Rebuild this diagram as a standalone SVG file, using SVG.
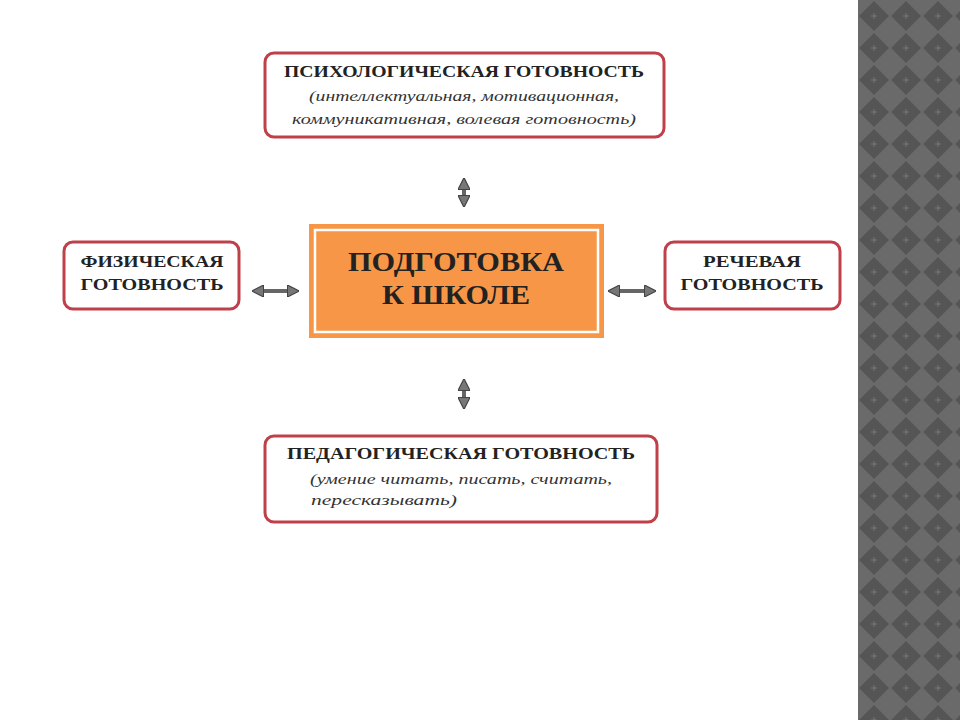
<svg xmlns="http://www.w3.org/2000/svg" width="960" height="720" viewBox="0 0 960 720">
<defs>
<pattern id="chk" x="858" y="0" width="32" height="32" patternUnits="userSpaceOnUse">
<rect width="32" height="32" fill="#6a6a6a"/>
<polygon points="16,1 31,16 16,31 1,16" fill="#555"/>
<path d="M13 16h6M16 13v6" stroke="#777" stroke-width="1"/>
</pattern>
<marker id="ah" viewBox="0 0 10 10" refX="8" refY="5" markerWidth="3" markerHeight="3" orient="auto-start-reverse">
<path d="M0,0 L10,5 L0,10 Z" fill="#777" stroke="#444" stroke-width="1"/>
</marker>
</defs>
<style>
.box{fill:#fff;stroke:#c0404a;stroke-width:3}
.t{font-family:"Liberation Serif",serif;font-weight:bold;fill:#222;text-anchor:middle}
.s{font-family:"Liberation Serif",serif;font-style:italic;fill:#333;text-anchor:middle;font-size:15px}
.c{stroke:#666;stroke-width:4;fill:none;marker-start:url(#ah);marker-end:url(#ah)}
</style>
<rect width="960" height="720" fill="#fff"/>
<rect x="858" y="0" width="102" height="720" fill="url(#chk)"/>
<g id="psych">
<rect class="box" x="265" y="53" width="399" height="84" rx="9"/>
<text class="t" x="464" y="77" font-size="16" textLength="360" lengthAdjust="spacingAndGlyphs">ПСИХОЛОГИЧЕСКАЯ ГОТОВНОСТЬ</text>
<text class="s" x="464" y="101" textLength="310" lengthAdjust="spacingAndGlyphs">(интеллектуальная, мотивационная,</text>
<text class="s" x="464" y="124" textLength="344" lengthAdjust="spacingAndGlyphs">коммуникативная, волевая готовность)</text>
</g>
<g id="center">
<rect x="309" y="224" width="295" height="114" fill="#f79646"/>
<rect x="315" y="230" width="283" height="102" fill="none" stroke="#fff" stroke-width="2.5"/>
<text class="t" x="456" y="271" font-size="28" font-weight="normal" fill="#1a1a1a" textLength="216" lengthAdjust="spacingAndGlyphs">ПОДГОТОВКА</text>
<text class="t" x="456" y="304" font-size="28" font-weight="normal" fill="#1a1a1a" textLength="148" lengthAdjust="spacingAndGlyphs">К ШКОЛЕ</text>
</g>
<g id="phys">
<rect class="box" x="64" y="242" width="175" height="67" rx="9"/>
<text class="t" x="152" y="267" font-size="16" textLength="143" lengthAdjust="spacingAndGlyphs">ФИЗИЧЕСКАЯ</text>
<text class="t" x="152" y="290" font-size="16" textLength="143" lengthAdjust="spacingAndGlyphs">ГОТОВНОСТЬ</text>
</g>
<g id="speech">
<rect class="box" x="665" y="242" width="175" height="67" rx="9"/>
<text class="t" x="752" y="267" font-size="16" textLength="98" lengthAdjust="spacingAndGlyphs">РЕЧЕВАЯ</text>
<text class="t" x="752" y="290" font-size="16" textLength="143" lengthAdjust="spacingAndGlyphs">ГОТОВНОСТЬ</text>
</g>
<g id="ped">
<rect class="box" x="265" y="436" width="392" height="86" rx="9"/>
<text class="t" x="461" y="459" font-size="16" textLength="348" lengthAdjust="spacingAndGlyphs">ПЕДАГОГИЧЕСКАЯ ГОТОВНОСТЬ</text>
<text class="s" x="461" y="484" textLength="302" lengthAdjust="spacingAndGlyphs">(умение читать, писать, считать,</text>
<text class="s" x="384" y="505" textLength="146" lengthAdjust="spacingAndGlyphs">пересказывать)</text>
</g>
<g id="connectors">
<line class="c" x1="464" y1="180" x2="464" y2="205"/>
<line class="c" x1="464" y1="381" x2="464" y2="407"/>
<line class="c" x1="254" y1="291" x2="297" y2="291"/>
<line class="c" x1="610" y1="291" x2="654" y2="291"/>
</g>
</svg>
